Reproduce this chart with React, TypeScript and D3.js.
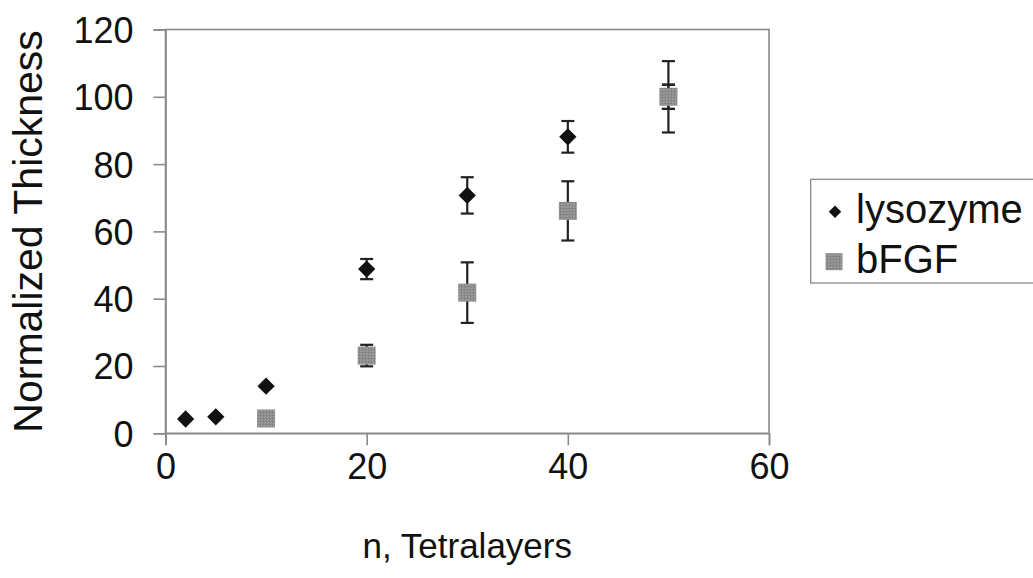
import { useEffect, useRef } from "react"
import * as d3 from "d3"

// lysozyme series (n, normalized thickness, error)
const lysoN = [2, 5, 10, 20, 30, 40, 50]
const lysoVal = [4.25, 4.9, 14, 48.8, 70.7, 88.1, 100]
const lysoErr = [0, 0, 0, 3, 5.4, 4.7, 3.6]

// bFGF series
const bfgfN = [10, 20, 30, 40, 50]
const bfgfVal = [4.4, 23.1, 41.8, 66.1, 100]
const bfgfErr = [0, 3.2, 9, 8.8, 10.6]

const xTicks = [0, 20, 40, 60]
const yTicks = [0, 20, 40, 60, 80, 100, 120]
const legendLabels = ["lysozyme", "bFGF"]

const FONT = "'Liberation Sans', Arial, sans-serif"

export default function App() {
  const svgRef = useRef<SVGSVGElement>(null)

  useEffect(() => {
    const svg = d3.select(svgRef.current)
    svg.selectAll("*").remove()

    const width = 1033
    const height = 578
    const left = 165.5, right = 769, top = 29.5, bottom = 433.3

    const x = d3.scaleLinear().domain([0, 60]).range([left, right])
    const y = d3.scaleLinear().domain([0, 120]).range([bottom, top])

    svg.attr("width", width).attr("height", height)
    svg.append("rect").attr("width", width).attr("height", height).attr("fill", "#fff")

    // texture for the grey squares
    const defs = svg.append("defs")
    const pat = defs.append("pattern")
      .attr("id", "grain")
      .attr("width", 3).attr("height", 3)
      .attr("patternUnits", "userSpaceOnUse")
    pat.append("rect").attr("width", 3).attr("height", 3).attr("fill", "#8d8d8d")
    pat.append("rect").attr("x", 0).attr("y", 0).attr("width", 1).attr("height", 1).attr("fill", "#a4a4a4")
    pat.append("rect").attr("x", 2).attr("y", 1).attr("width", 1).attr("height", 1).attr("fill", "#7a7a7a")
    pat.append("rect").attr("x", 1).attr("y", 2).attr("width", 1).attr("height", 1).attr("fill", "#9c9c9c")

    // plot frame
    svg.append("rect")
      .attr("x", left).attr("y", top)
      .attr("width", right - left).attr("height", bottom - top)
      .attr("fill", "none")
      .attr("stroke", "#8a8a8a")
      .attr("stroke-width", 1.6)

    // axes
    const yAxis = d3.axisLeft(y).tickValues(yTicks).tickSize(12).tickPadding(8)
    const gy = svg.append("g").attr("transform", `translate(${left},0)`).call(yAxis)
    const xAxis = d3.axisBottom(x).tickValues(xTicks).tickSize(12).tickPadding(10)
    const gx = svg.append("g").attr("transform", `translate(0,${bottom})`).call(xAxis)

    for (const g of [gx, gy]) {
      g.select(".domain").attr("stroke", "#8a8a8a").attr("stroke-width", 1.6)
      g.selectAll(".tick line").attr("stroke", "#8a8a8a").attr("stroke-width", 1.6)
      g.selectAll(".tick text")
        .attr("fill", "#111")
        .style("font-family", FONT)
        .style("font-size", "36px")
    }
    gy.selectAll(".tick text").attr("x", -32).attr("dy", "0.36em")
    gx.selectAll(".tick text").attr("y", 20).attr("dy", "0.71em")

    // axis titles
    svg.append("text")
      .attr("x", (left + right) / 2)
      .attr("y", 558)
      .attr("text-anchor", "middle")
      .attr("fill", "#111")
      .style("font-family", FONT)
      .style("font-size", "35px")
      .text("n, Tetralayers")

    svg.append("text")
      .attr("transform", `translate(42,${(top + bottom) / 2}) rotate(-90)`)
      .attr("text-anchor", "middle")
      .attr("fill", "#111")
      .style("font-family", FONT)
      .style("font-size", "41px")
      .text("Normalized Thickness")

    const diamond = d3.symbol().type(d3.symbolDiamond2).size(190)
    const capW = 6.5

    const drawErr = (g: any, xs: number[], vs: number[], es: number[]) => {
      xs.forEach((n, i) => {
        if (!es[i]) return
        const cx = x(n)
        const y1 = y(vs[i] + es[i]), y2 = y(vs[i] - es[i])
        g.append("line").attr("x1", cx).attr("x2", cx).attr("y1", y1).attr("y2", y2)
        g.append("line").attr("x1", cx - capW).attr("x2", cx + capW).attr("y1", y1).attr("y2", y1)
        g.append("line").attr("x1", cx - capW).attr("x2", cx + capW).attr("y1", y2).attr("y2", y2)
      })
    }

    // lysozyme
    const gl = svg.append("g")
    const glErr = gl.append("g").attr("stroke", "#222").attr("stroke-width", 2.2)
    drawErr(glErr, lysoN, lysoVal, lysoErr)
    gl.selectAll("path")
      .data(lysoN)
      .join("path")
      .attr("transform", (n, i) => `translate(${x(n)},${y(lysoVal[i])})`)
      .attr("d", diamond)
      .attr("fill", "#111")

    // bFGF
    const gb = svg.append("g")
    const gbErr = gb.append("g").attr("stroke", "#222").attr("stroke-width", 2.2)
    drawErr(gbErr, bfgfN, bfgfVal, bfgfErr)
    const sq = 18
    gb.selectAll("rect.m")
      .data(bfgfN)
      .join("rect")
      .attr("class", "m")
      .attr("x", n => x(n) - sq / 2)
      .attr("y", (n, i) => y(bfgfVal[i]) - sq / 2)
      .attr("width", sq)
      .attr("height", sq)
      .attr("fill", "url(#grain)")
    // the square at n=50 sits over the lysozyme bar; redraw its small caps on top
    const i50 = lysoN.indexOf(50)
    if (i50 >= 0) {
      const cx = x(50)
      const g50 = gb.append("g").attr("stroke", "#222").attr("stroke-width", 2.2)
      ;[lysoVal[i50] + lysoErr[i50], lysoVal[i50] - lysoErr[i50]].forEach(v => {
        g50.append("line").attr("x1", cx - capW).attr("x2", cx + capW).attr("y1", y(v)).attr("y2", y(v))
      })
    }

    // legend
    const lg = svg.append("g")
    lg.append("rect")
      .attr("x", 810.7).attr("y", 179.3)
      .attr("width", 240).attr("height", 283 - 179.3)
      .attr("fill", "#fff")
      .attr("stroke", "#8a8a8a")
      .attr("stroke-width", 1.3)
    const rowY = [211.7, 261.7]
    lg.append("path")
      .attr("transform", `translate(835,${rowY[0]})`)
      .attr("d", d3.symbol().type(d3.symbolDiamond2).size(100))
      .attr("fill", "#111")
    lg.append("rect")
      .attr("x", 834 - 8.5).attr("y", rowY[1] - 8.5)
      .attr("width", 17).attr("height", 17)
      .attr("fill", "url(#grain)")
    legendLabels.forEach((t, i) => {
      lg.append("text")
        .attr("x", 856)
        .attr("y", rowY[i] + 11.5)
        .attr("fill", "#111")
        .style("font-family", FONT)
        .style("font-size", "40px")
        .text(t)
    })
  }, [])

  return (
    <svg ref={svgRef} style={{ position: "absolute", left: 0, top: 0, display: "block" }} />
  )
}
